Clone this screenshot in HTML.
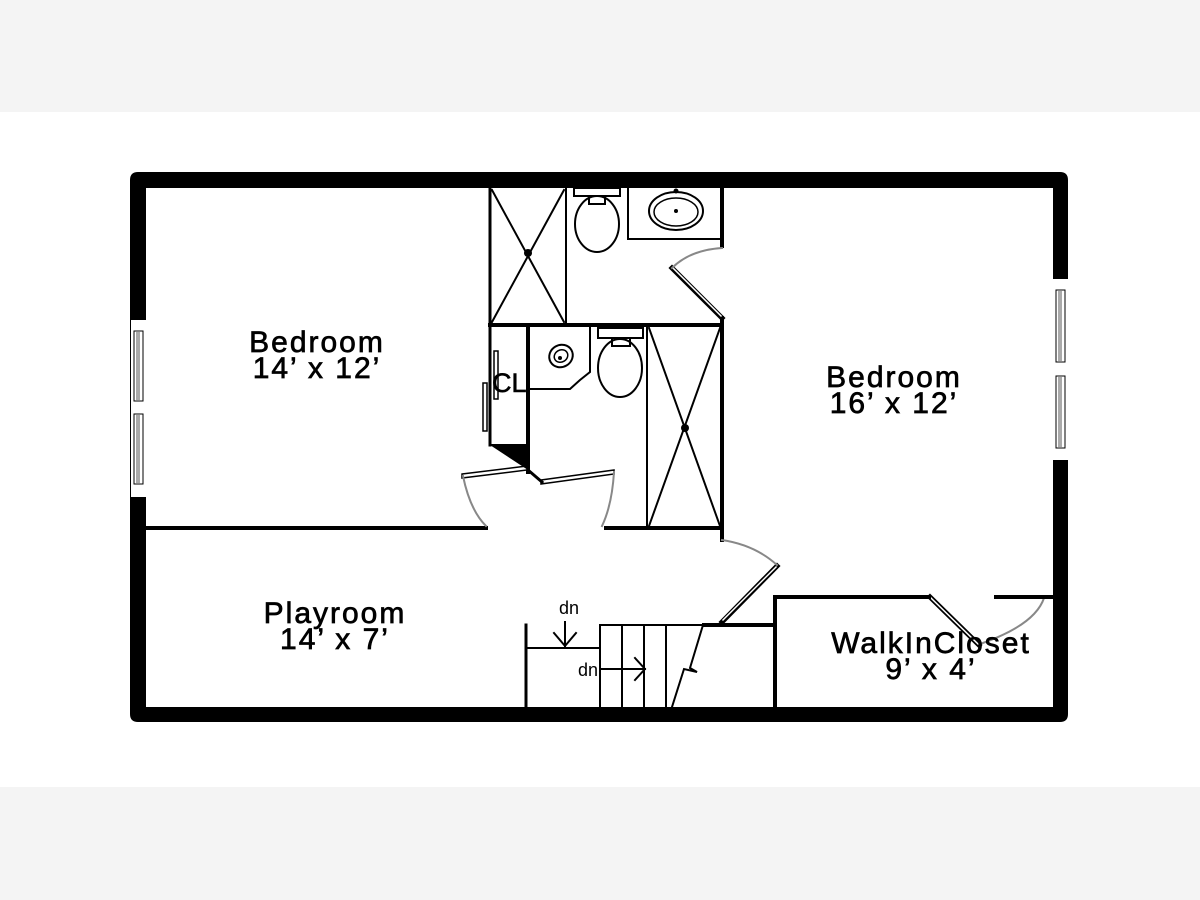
<!DOCTYPE html>
<html><head><meta charset="utf-8"><style>
html,body{margin:0;padding:0;width:1200px;height:900px;overflow:hidden;background:#f4f4f4}
svg{display:block}
text{font-family:"Liberation Sans",sans-serif;fill:#000}
</style></head><body>
<svg width="1200" height="900" viewBox="0 0 1200 900" xmlns="http://www.w3.org/2000/svg">
<rect x="0" y="0" width="1200" height="900" fill="#f4f4f4"/>
<rect x="0" y="112" width="1200" height="675" fill="#fff"/>
<path d="M138,172 H1060 Q1068,172 1068,180 V714 Q1068,722 1060,722 H138 Q130,722 130,714 V180 Q130,172 138,172 Z M146,188 V707 H1053 V188 Z" fill="#000" fill-rule="evenodd"/>
<g>
<rect x="131" y="320" width="15" height="177" fill="#fff"/>
<rect x="134" y="331" width="9" height="70" fill="#fff" stroke="#000" stroke-width="1"/>
<rect x="136" y="332" width="4" height="68" fill="#aaa"/>
<rect x="134" y="414" width="9" height="70" fill="#fff" stroke="#000" stroke-width="1"/>
<rect x="136" y="415" width="4" height="68" fill="#aaa"/>
<rect x="1053" y="279" width="15" height="181" fill="#fff"/>
<rect x="1056" y="290" width="9" height="72" fill="#fff" stroke="#000" stroke-width="1"/>
<rect x="1058" y="291" width="4" height="70" fill="#aaa"/>
<rect x="1056" y="376" width="9" height="72" fill="#fff" stroke="#000" stroke-width="1"/>
<rect x="1058" y="377" width="4" height="70" fill="#aaa"/>
</g>
<g stroke="#000" fill="none" stroke-linecap="square">
<line x1="146" y1="528" x2="486" y2="528" stroke-width="4"/>
<line x1="606" y1="528" x2="722" y2="528" stroke-width="4"/>
<line x1="490" y1="188" x2="490" y2="445" stroke-width="3"/>
<line x1="566" y1="188" x2="566" y2="324" stroke-width="2"/>
<line x1="490" y1="325" x2="722" y2="325" stroke-width="4"/>
<line x1="722" y1="188" x2="722" y2="246" stroke-width="4"/>
<line x1="722" y1="318" x2="722" y2="540" stroke-width="4"/>
<line x1="528" y1="325" x2="528" y2="472" stroke-width="4"/>
<line x1="647" y1="326" x2="647" y2="528" stroke-width="2"/>
<line x1="492" y1="190" x2="564" y2="322" stroke-width="2"/>
<line x1="564" y1="190" x2="492" y2="322" stroke-width="2"/>
<line x1="649" y1="328" x2="720" y2="526" stroke-width="2"/>
<line x1="720" y1="328" x2="649" y2="526" stroke-width="2"/>
<rect x="574" y="188" width="46" height="8" stroke-width="2" fill="#fff"/>
<rect x="589" y="196" width="16" height="8" stroke-width="2"/>
<ellipse cx="597" cy="224" rx="22" ry="28" stroke-width="2"/>
<polyline points="628,188 628,239 720,239" stroke-width="2"/>
<ellipse cx="676" cy="211" rx="27" ry="19" stroke-width="2"/>
<ellipse cx="676" cy="212" rx="22" ry="14" stroke-width="1.5"/>
<rect x="598" y="328" width="45" height="10" stroke-width="2" fill="#fff"/>
<rect x="612" y="338" width="18" height="8" stroke-width="2"/>
<ellipse cx="620" cy="368" rx="22" ry="29" stroke-width="2"/>
<polyline points="530,389 570,389 580,380 590,372 590,327" stroke-width="2"/>
<ellipse cx="561" cy="356" rx="12" ry="11" stroke-width="2" transform="rotate(-30 561 356)"/>
<ellipse cx="561" cy="356" rx="7" ry="6" stroke-width="1.5" transform="rotate(-30 561 356)"/>
<line x1="490" y1="445" x2="528" y2="445" stroke-width="2"/>
<rect x="494" y="351" width="4" height="48" stroke-width="1.5"/>
<rect x="483" y="383" width="4" height="48" stroke-width="1.5"/>
<path d="M462,474 L527,466 L527,470 L462,478 Z" stroke-width="1.5" fill="#fff"/>
<path d="M541,480 L614,470 L614,474 L541,484 Z" stroke-width="1.5" fill="#fff"/>
<line x1="528" y1="470" x2="542" y2="482" stroke-width="3"/>
<path d="M672,268 L722,318" stroke-width="5"/>
<path d="M673,268 L721,316" stroke="#fff" stroke-width="1.5"/>
<path d="M722,622 L777,566" stroke-width="5"/>
<path d="M723,620 L776,567" stroke="#fff" stroke-width="1.5"/>
<path d="M930,597 L979,645" stroke-width="5"/>
<path d="M931,598 L978,644" stroke="#fff" stroke-width="1.5"/>
<g stroke="#888" stroke-width="2">
<path d="M722,248 Q690,250 672,268"/>
<path d="M463,476 Q470,510 486,526"/>
<path d="M614,472 Q612,505 602,526"/>
<path d="M722,540 Q755,545 777,565"/>
<path d="M1044,598 Q1035,625 980,644"/>
</g>
<line x1="526" y1="625" x2="526" y2="707" stroke-width="3"/>
<line x1="528" y1="648" x2="600" y2="648" stroke-width="2"/>
<line x1="600" y1="625" x2="600" y2="707" stroke-width="2"/>
<line x1="600" y1="625" x2="704" y2="625" stroke-width="2"/>
<line x1="622" y1="625" x2="622" y2="707" stroke-width="2"/>
<line x1="644" y1="625" x2="644" y2="707" stroke-width="2"/>
<line x1="666" y1="625" x2="666" y2="707" stroke-width="2"/>
<line x1="704" y1="625" x2="775" y2="625" stroke-width="4"/>
<line x1="775" y1="597" x2="775" y2="707" stroke-width="4"/>
<line x1="775" y1="597" x2="929" y2="597" stroke-width="4"/>
<line x1="996" y1="597" x2="1053" y2="597" stroke-width="4"/>
<polyline points="703,625 690,668 697,672 684,669 672,707" stroke-width="2"/>
<line x1="565" y1="622" x2="565" y2="646" stroke-width="2"/>
<polyline points="554,633 565,646 576,633" stroke-width="2"/>
<line x1="601" y1="669" x2="645" y2="669" stroke-width="2"/>
<polyline points="635,658 645,669 635,680" stroke-width="2"/>
</g>
<polygon points="490,445 528,445 528,470" fill="#000"/>
<g fill="#000">
<circle cx="528" cy="253" r="4"/>
<circle cx="685" cy="428" r="4"/>
<circle cx="676" cy="191" r="2.5"/>
<circle cx="676" cy="211" r="2"/>
<circle cx="560" cy="358" r="2"/>
</g>
<g font-size="30" text-anchor="middle" letter-spacing="2" stroke="#000" stroke-width="0.7">
<text x="317" y="352">Bedroom</text>
<text x="317" y="378">14’ x 12’</text>
<text x="894" y="387">Bedroom</text>
<text x="894" y="413">16’ x 12’</text>
<text x="335" y="623">Playroom</text>
<text x="335" y="649">14’ x 7’</text>
<text x="931" y="653">WalkInCloset</text>
<text x="931" y="679">9’ x 4’</text>
</g>
<text x="492" y="392" font-size="27" stroke="#000" stroke-width="0.6">CL</text>
<text x="569" y="614" font-size="18" text-anchor="middle">dn</text>
<text x="588" y="676" font-size="18" text-anchor="middle">dn</text>
</svg>
</body></html>
